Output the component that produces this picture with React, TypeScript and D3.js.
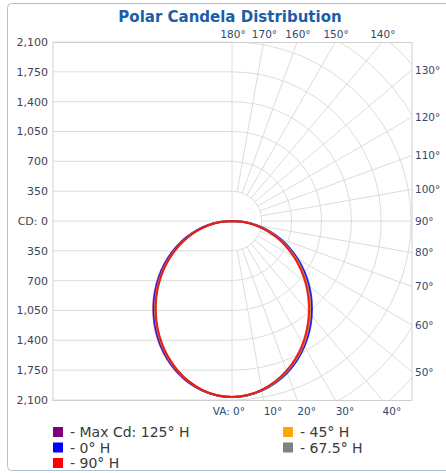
import React from 'react';
import * as d3 from 'd3';

// vertical angles (deg from nadir) at which candela values were read
const angles = [0, 5, 10, 15, 20, 25, 30, 35, 40, 45, 50, 55, 60, 65, 70, 75, 80, 85, 90];

// right half of the plot
const maxCdRight = [2065, 2053, 2018, 1962, 1887, 1795, 1688, 1569, 1440, 1305, 1165, 1021, 876, 729, 583, 436, 290, 145, 0];
const h0Right = [2065, 2054, 2021, 1967, 1894, 1804, 1699, 1582, 1455, 1321, 1182, 1038, 892, 744, 596, 447, 298, 149, 0];
const h45Right = [2065, 2052, 2015, 1957, 1880, 1786, 1677, 1556, 1425, 1289, 1148, 1004, 860, 714, 570, 425, 282, 141, 0];
const h675Right = [2065, 2051, 2013, 1953, 1874, 1778, 1667, 1544, 1412, 1275, 1134, 990, 846, 702, 559, 416, 275, 137, 0];
const h90Right = [2065, 2050, 2011, 1950, 1869, 1772, 1660, 1536, 1403, 1265, 1124, 980, 837, 694, 552, 410, 271, 135, 0];

// left half (opposite planes)
const maxCdLeft = [2065, 2054, 2020, 1964, 1887, 1793, 1685, 1564, 1434, 1299, 1158, 1015, 870, 725, 579, 434, 290, 145, 0];
const h0Left = [2065, 2053, 2017, 1959, 1880, 1784, 1674, 1552, 1421, 1285, 1144, 1001, 857, 713, 569, 426, 284, 142, 0];
const h45Left = [2065, 2052, 2014, 1953, 1871, 1772, 1660, 1536, 1403, 1266, 1125, 982, 839, 697, 555, 415, 276, 138, 0];
const h675Left = [2065, 2051, 2012, 1950, 1867, 1767, 1654, 1529, 1396, 1259, 1118, 975, 832, 690, 549, 410, 273, 136, 0];
const h90Left = [2065, 2051, 2011, 1948, 1864, 1764, 1650, 1525, 1391, 1254, 1113, 970, 827, 686, 545, 407, 271, 135, 0];

const seriesNames = ['Max Cd: 125° H', '0° H', '90° H', '45° H', '67.5° H'];
const seriesColors = ['#800080', '#0000ff', '#ff0000', '#ffa500', '#808080'];

const cdTicks = [2100, 1750, 1400, 1050, 700, 350, 0, 350, 700, 1050, 1400, 1750, 2100];
const angleLabels = [0, 10, 20, 30, 40, 50, 60, 70, 80, 90, 100, 110, 120, 130, 140, 150, 160, 170, 180];

const W = 446;
const H = 473;
const plot = { left: 53, right: 412, top: 42.5, bottom: 400.5 };
const cx = 232;
const cy = 221;

export default function App() {
  const r = d3.scaleLinear().domain([0, 2100]).range([0, 179]);
  const fmt = d3.format(',');

  const series = [
    { name: seriesNames[0], color: seriesColors[0], right: maxCdRight, left: maxCdLeft },
    { name: seriesNames[1], color: seriesColors[1], right: h0Right, left: h0Left },
    { name: seriesNames[3], color: seriesColors[3], right: h45Right, left: h45Left },
    { name: seriesNames[4], color: seriesColors[4], right: h675Right, left: h675Left },
    { name: seriesNames[2], color: seriesColors[2], right: h90Right, left: h90Left },
  ];

  const rad = (deg: number) => (deg * Math.PI) / 180;

  // lineRadial: angle clockwise from 12 o'clock, nadir = PI
  const line = d3
    .lineRadial<[number, number]>()
    .angle((d) => d[0])
    .radius((d) => r(d[1]))
    .curve(d3.curveCatmullRom);

  const curvePath = (s: typeof series[0]) => {
    const pts: [number, number][] = [];
    for (let i = angles.length - 1; i >= 0; i--) pts.push([Math.PI + rad(angles[i]), s.left[i]]);
    for (let i = 1; i < angles.length; i++) pts.push([Math.PI - rad(angles[i]), s.right[i]]);
    return line(pts) || '';
  };

  // right-half grid arcs
  const arcValues = d3.range(350, 3001, 350);
  const arcPath = (v: number) => {
    const p = d3.path();
    p.arc(cx, cy, r(v), -Math.PI / 2, Math.PI / 2);
    return p.toString();
  };

  const radials = d3.range(10, 171, 10);

  // where a radial line leaves the plot rect
  const edgePoint = (deg: number) => {
    const a = rad(deg);
    const dx = Math.sin(a);
    const dy = Math.cos(a);
    const ts: { t: number; side: string }[] = [];
    if (dx > 1e-6) ts.push({ t: (plot.right - cx) / dx, side: 'right' });
    if (dy > 1e-6) ts.push({ t: (plot.bottom - cy) / dy, side: 'bottom' });
    if (dy < -1e-6) ts.push({ t: (cy - plot.top) / -dy, side: 'top' });
    const best = ts.reduce((m, o) => (o.t < m.t ? o : m));
    return { x: cx + dx * best.t, y: cy + dy * best.t, side: best.side };
  };

  const gridColor = '#dcdcdc';
  const angleColor = '#2f4a6d';
  const font = 'Tahoma, "DejaVu Sans", sans-serif';

  return (
    <div style={{ position: 'fixed', left: 0, top: 0 }}>
      <svg width={W} height={H} style={{ display: 'block', background: '#fff' }}>
        <defs>
          <clipPath id="plotClip">
            <rect x={cx} y={plot.top} width={plot.right - cx} height={plot.bottom - plot.top} />
          </clipPath>
        </defs>
        <rect x={7.5} y={3.5} width={446} height={467} rx={4} fill="#fff" stroke="#a9c2de" />

        <text x={230} y={22} textAnchor="middle" fontFamily={font} fontWeight="bold" fontSize={15} fill="#1c5da8">
          Polar Candela Distribution
        </text>

        {/* left half horizontal grid */}
        {cdTicks.map((v, i) => {
          const y = i <= 6 ? cy - r(v) : cy + r(v);
          return (
            <g key={'h' + i}>
              <line x1={plot.left} x2={cx} y1={y} y2={y} stroke={gridColor} />
              <text x={48} y={y} dy="0.35em" textAnchor="end" fontFamily={font} fontSize={11} fill="#3d4650">
                {v === 0 ? 'CD: 0' : fmt(v)}
              </text>
            </g>
          );
        })}

        {/* right half polar grid */}
        <g clipPath="url(#plotClip)">
          {arcValues.map((v) => (
            <path key={'a' + v} d={arcPath(v)} fill="none" stroke={gridColor} />
          ))}
          {radials.map((deg) => {
            const a = rad(deg);
            return (
              <line
                key={'r' + deg}
                x1={cx + Math.sin(a) * r(350)}
                y1={cy + Math.cos(a) * r(350)}
                x2={cx + Math.sin(a) * r(3200)}
                y2={cy + Math.cos(a) * r(3200)}
                stroke={gridColor}
              />
            );
          })}
        </g>

        <line x1={cx} x2={cx} y1={plot.top} y2={plot.bottom} stroke={gridColor} />
        <rect
          x={plot.left}
          y={plot.top}
          width={plot.right - plot.left}
          height={plot.bottom - plot.top}
          fill="none"
          stroke="#cfcfcf"
        />

        {/* angle labels */}
        {angleLabels.map((deg) => {
          const p = edgePoint(deg);
          const label = deg + '°';
          if (p.side === 'right') {
            return (
              <text key={'l' + deg} x={plot.right + 3} y={p.y} dy="0.35em" fontFamily={font} fontSize={10.5} fill={angleColor}>
                {label}
              </text>
            );
          }
          if (p.side === 'top') {
            return (
              <text key={'l' + deg} x={p.x + 1} y={plot.top - 5} textAnchor="middle" fontFamily={font} fontSize={10.5} fill={angleColor}>
                {label}
              </text>
            );
          }
          return (
            <text
              key={'l' + deg}
              x={deg === 0 ? p.x + 13 : p.x}
              y={plot.bottom + 14}
              textAnchor={deg === 0 ? 'end' : 'start'}
              fontFamily={font}
              fontSize={10.5}
              fill={angleColor}
            >
              {deg === 0 ? 'VA: 0°' : label}
            </text>
          );
        })}

        {/* candela curves */}
        <g transform={`translate(${cx},${cy})`}>
          {series.map((s) => (
            <path key={s.name} d={curvePath(s)} fill="none" stroke={s.color} strokeWidth={2} strokeOpacity={0.8} />
          ))}
        </g>

        {/* legend */}
        {seriesNames.map((name, i) => {
          const col = i < 3 ? 0 : 1;
          const row = i < 3 ? i : i - 3;
          const x = col === 0 ? 53 : 283;
          const y = 432 + row * 15.5;
          return (
            <g key={'lg' + i}>
              <rect x={x} y={y - 5} width={10} height={10} fill={seriesColors[i]} />
              <text x={x + 17} y={y} dy="0.36em" fontFamily={font} fontSize={14} fill="#3a3a3a">
                {'- ' + name}
              </text>
            </g>
          );
        })}
      </svg>
    </div>
  );
}
